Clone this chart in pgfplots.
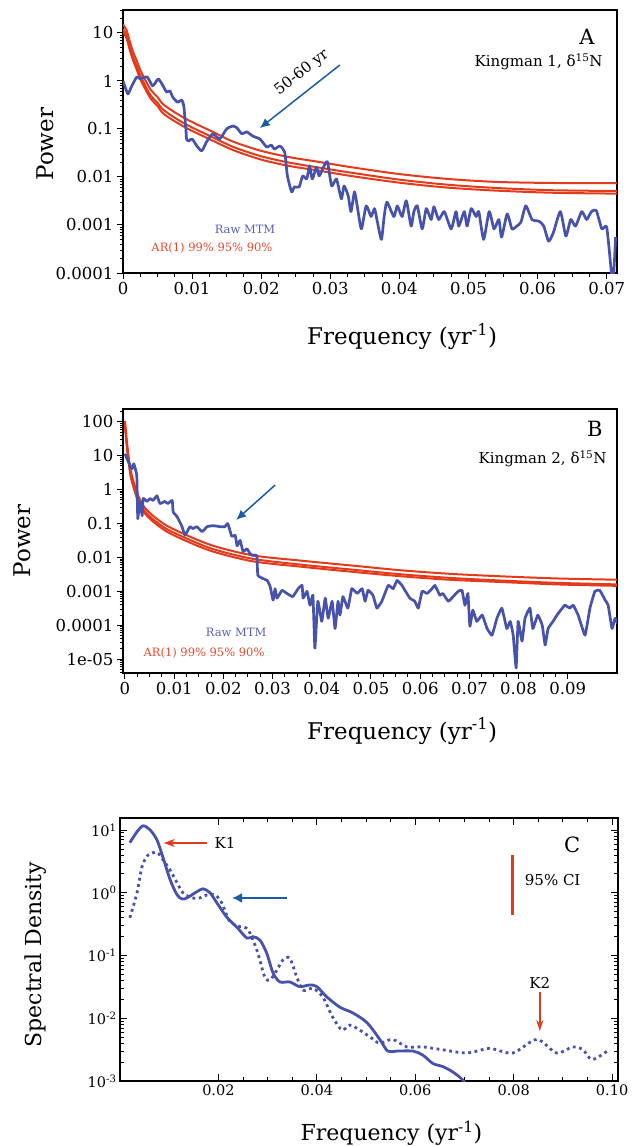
\documentclass[border=0pt]{standalone}
\usepackage{fontspec}
\setmainfont{DejaVu Serif}
\usepackage{pgfplots}
\usepackage{pgfplotstable}
\pgfplotsset{compat=1.18}
\usetikzlibrary{arrows.meta}
\definecolor{mtmblue}{HTML}{4752AC}
\definecolor{arrowblue}{HTML}{1B5CA6}
\definecolor{arred}{HTML}{E33A1C}
\definecolor{legblue}{HTML}{5560B5}
\definecolor{legred}{HTML}{E8492C}

% panel A: raw MTM spectrum, Kingman 1
\pgfplotstableread{
f P
0 1.0
0.0007 0.54
0.0012 0.75
0.002 1.21
0.0025 1.1
0.0035 1.21
0.0043 0.79
0.0051 1.1
0.0058 0.79
0.0063 0.59
0.0068 0.62
0.0072 0.46
0.0079 0.36
0.0085 0.40
0.0088 0.30
0.0091 0.10
0.0092 0.062
0.0095 0.056
0.0100 0.062
0.0107 0.044
0.0114 0.035
0.0121 0.054
0.0130 0.079
0.0140 0.062
0.0150 0.10
0.0159 0.115
0.0165 0.105
0.0172 0.079
0.0179 0.087
0.0188 0.071
0.0198 0.062
0.0203 0.051
0.0208 0.042
0.0215 0.046
0.0219 0.038
0.0227 0.044
0.0234 0.033
0.0238 0.0105
0.0244 0.0049
0.0248 0.0062
0.0255 0.0062
0.0260 0.0105
0.0266 0.0091
0.0270 0.017
0.0274 0.0091
0.0280 0.016
0.0284 0.0105
0.0291 0.017
0.0296 0.0205
0.0302 0.0065
0.0309 0.0091
0.0316 0.0035
0.0320 0.0065
0.0326 0.0040
0.0330 0.0019
0.0335 0.0049
0.0339 0.0025
0.0345 0.00083
0.0352 0.0025
0.0359 0.0015
0.0364 0.0022
0.0368 0.0012
0.0374 0.0005
0.0378 0.0015
0.0382 0.0030
0.0392 0.0015
0.0397 0.0025
0.0404 0.0015
0.0410 0.0032
0.0417 0.00095
0.0421 0.0019
0.0426 0.0025
0.0433 0.00083
0.0439 0.0022
0.0446 0.0013
0.0450 0.0024
0.0457 0.0013
0.0465 0.0019
0.0475 0.00083
0.0482 0.0019
0.0486 0.00095
0.0494 0.0019
0.0498 0.00095
0.0504 0.0022
0.0511 0.0015
0.0515 0.0019
0.0522 0.0005
0.0530 0.0019
0.0537 0.00083
0.0544 0.0013
0.0548 0.00056
0.0556 0.0017
0.0563 0.00083
0.0570 0.00095
0.0576 0.00115
0.0583 0.0025
0.0592 0.0013
0.0602 0.0012
0.0609 0.00095
0.0616 0.00046
0.0623 0.0007
0.0633 0.0019
0.0641 0.00059
0.0648 0.0013
0.0655 0.00095
0.0664 0.0019
0.0671 0.0013
0.0678 0.0019
0.0685 0.0020
0.0693 0.00083
0.0700 0.00091
0.0706 0.00014
0.0709 0.00005
0.0713 0.00056
}\mtmA

\pgfplotstableread{
f p99 p95 p90
0 15 12 10.5
0.0005 11.5 9.0 7.8
0.001 6.5 5.0 4.3
0.0015 3.9 3.0 2.6
0.002 2.6 2.0 1.7
0.0025 1.7 1.3 1.1
0.003 1.2 0.92 0.78
0.004 0.66 0.50 0.43
0.005 0.46 0.35 0.30
0.006 0.31 0.24 0.20
0.009 0.165 0.127 0.108
0.013 0.087 0.067 0.057
0.016 0.054 0.042 0.036
0.020 0.035 0.027 0.023
0.024 0.026 0.020 0.017
0.028 0.021 0.016 0.0138
0.033 0.016 0.0123 0.0105
0.040 0.0115 0.0088 0.0076
0.047 0.0091 0.0069 0.0060
0.054 0.0079 0.0059 0.0052
0.062 0.0075 0.0053 0.0047
0.0715 0.0074 0.0051 0.0045
}\arA

% panel B: raw MTM spectrum, Kingman 2
\pgfplotstableread{
f P
0 11.5
0.0006 7.1
0.0014 4.1
0.0018 5.8
0.0024 2.6
0.0026 0.14
0.0030 0.45
0.0035 0.17
0.0037 0.55
0.0045 0.45
0.0051 0.55
0.0057 0.48
0.0065 0.66
0.0071 0.39
0.0081 0.45
0.0087 0.39
0.0096 0.48
0.0098 0.22
0.0106 0.16
0.0116 0.081
0.0122 0.045
0.0132 0.081
0.0138 0.071
0.0146 0.081
0.0157 0.058
0.0167 0.081
0.0179 0.087
0.0193 0.081
0.0203 0.081
0.0209 0.10
0.0217 0.042
0.0224 0.045
0.0228 0.022
0.0234 0.032
0.0240 0.015
0.0248 0.018
0.0254 0.013
0.0260 0.0115
0.0268 0.0115
0.0270 0.0030
0.0280 0.0024
0.0289 0.0021
0.0295 0.0014
0.0301 0.00055
0.0305 0.0012
0.0309 0.00063
0.0319 0.00107
0.0329 0.00087
0.0341 0.0007
0.0352 0.0012
0.0360 0.0015
0.0362 0.00063
0.0370 0.0010
0.0376 0.00039
0.0382 0.00077
0.0386 0.000021
0.0392 0.00051
0.0400 0.00013
0.0407 0.00063
0.0413 0.00016
0.0421 0.00051
0.0427 0.00008
0.0433 0.00051
0.0437 0.0002
0.0443 0.0007
0.0453 0.00032
0.0461 0.0012
0.0472 0.00087
0.0482 0.0012
0.0488 0.00051
0.0494 0.00107
0.0504 0.00077
0.0512 0.00032
0.0522 0.00051
0.0535 0.0015
0.0545 0.0012
0.0553 0.0021
0.0563 0.0015
0.0569 0.00107
0.0579 0.00063
0.0589 0.00051
0.0596 0.00032
0.0604 0.0010
0.0614 0.00087
0.0624 0.0012
0.0630 0.0015
0.0640 0.00077
0.0646 0.00087
0.0657 0.00051
0.0667 0.0007
0.0677 0.0010
0.0685 0.00107
0.0691 0.00039
0.0697 0.00087
0.0701 0.000093
0.0707 0.00028
0.0715 0.00013
0.0726 0.0002
0.0736 0.00008
0.0746 0.000051
0.0756 0.00016
0.0766 0.00032
0.0776 0.00008
0.0783 0.00013
0.0789 0.000051
0.0795 0.0000055
0.0799 0.00013
0.0807 0.000034
0.0813 0.00016
0.0823 0.00032
0.0829 0.00008
0.0839 0.0002
0.0848 0.0001
0.0854 0.000026
0.0860 0.00008
0.0870 0.00013
0.0878 0.0002
0.0884 0.00026
0.0894 0.00039
0.0904 0.00032
0.0911 0.00039
0.0921 0.0002
0.0935 0.000051
0.0945 0.00032
0.0955 0.0010
0.0965 0.00107
0.0976 0.00055
0.0982 0.00039
0.0990 0.00008
0.0996 0.00016
0.1002 0.00011
}\mtmB

\pgfplotstableread{
f p99 p95 p90
0 107 85 72
0.0003 36 29 24
0.0006 14 11 9.5
0.001 5.0 4.0 3.4
0.0014 2.6 2.1 1.75
0.0024 0.87 0.69 0.58
0.0037 0.34 0.27 0.23
0.0057 0.17 0.135 0.115
0.0085 0.087 0.069 0.058
0.0126 0.045 0.036 0.030
0.018 0.022 0.0175 0.0148
0.026 0.0115 0.0091 0.0077
0.036 0.0080 0.0061 0.0053
0.046 0.0058 0.0044 0.0038
0.056 0.0042 0.0032 0.0028
0.066 0.0033 0.0025 0.0022
0.076 0.0028 0.0021 0.0019
0.088 0.0024 0.00178 0.00160
0.1005 0.0022 0.0016 0.00145
}\arB

% panel C: spectral density, K1 (solid) and K2 (dotted)
\pgfplotstableread{
f S
0.002 6.3
0.00345 9.4
0.0047 11.7
0.0061 10.1
0.0075 7.0
0.0087 3.75
0.0102 1.61
0.0116 0.93
0.0126 0.80
0.0136 0.83
0.0156 1.04
0.0169 1.16
0.0183 1.0
0.0197 0.69
0.0217 0.41
0.0238 0.28
0.0258 0.19
0.0270 0.20
0.0284 0.178
0.0298 0.11
0.0311 0.053
0.0325 0.038
0.0345 0.038
0.0365 0.032
0.0386 0.034
0.0400 0.032
0.0420 0.022
0.0447 0.015
0.0473 0.0122
0.0502 0.0085
0.0528 0.0046
0.0544 0.0030
0.0562 0.0030
0.0595 0.0030
0.0615 0.0026
0.0636 0.0019
0.0656 0.0017
0.0676 0.0014
0.0696 0.00105
0.0711 0.00072
}\specK

\pgfplotstableread{
f S
0.002 0.40
0.00345 1.0
0.00447 2.6
0.0057 4.0
0.0075 4.4
0.0087 3.4
0.0102 2.3
0.0116 1.44
0.0128 1.0
0.0146 0.83
0.0162 0.83
0.0177 0.93
0.0193 0.93
0.0207 0.69
0.0223 0.35
0.0244 0.29
0.0260 0.26
0.0278 0.123
0.0294 0.046
0.0305 0.041
0.0319 0.059
0.0331 0.085
0.0345 0.091
0.0359 0.046
0.0372 0.028
0.0392 0.030
0.0412 0.022
0.0432 0.0105
0.0451 0.0065
0.0467 0.0078
0.0487 0.0065
0.0512 0.0048
0.0528 0.0040
0.0554 0.0046
0.0583 0.0035
0.0615 0.0035
0.0650 0.0032
0.0705 0.0028
0.0751 0.0033
0.0798 0.0028
0.0847 0.0046
0.0887 0.0028
0.0920 0.0035
0.0940 0.0032
0.0960 0.0022
0.0995 0.0032
}\specKtwo

\pgfplotsset{
  kpanel/.style={
    scale only axis,
    scaled x ticks=false,
    axis line style={line width=2.8pt},
    tick style={black, line width=1pt},
    major tick length=6pt, minor tick length=3.5pt,
    tick align=outside, tick pos=left,
    ticklabel style={font=\fontsize{16.5}{16.5}\selectfont},
    label style={font=\fontsize{23}{23}\selectfont},
  },
}
\tikzset{
  mtm/.style={mtmblue, line width=2.7pt, smooth, tension=0.35, line join=round},
  arline/.style={arred, line width=2pt, smooth},
}

\begin{document}
\begin{tikzpicture}
\path[use as bounding box] (0pt,0pt) rectangle (634pt,-1146pt);

% ---------------- A ----------------
\begin{semilogyaxis}[kpanel,
  at={(123pt,-273pt)}, anchor=south west, width=494pt, height=263pt,
  xmin=0, xmax=0.0715, ymin=1e-4, ymax=30,
  xtick={0,0.01,0.02,0.03,0.04,0.05,0.06,0.07},
  xticklabels={0,0.01,0.02,0.03,0.04,0.05,0.06,0.07},
  minor x tick num=3,
  ytick={1e-4,1e-3,1e-2,1e-1,1,10},
  yticklabels={0.0001,0.001,0.01,0.1,1,10},
  minor ytick={2e-4,3e-4,4e-4,5e-4,6e-4,7e-4,8e-4,9e-4,
    2e-3,3e-3,4e-3,5e-3,6e-3,7e-3,8e-3,9e-3,
    0.02,0.03,0.04,0.05,0.06,0.07,0.08,0.09,
    0.2,0.3,0.4,0.5,0.6,0.7,0.8,0.9,
    2,3,4,5,6,7,8,9,20,30},
  xlabel={Frequency (yr\textsuperscript{-1})},
  ylabel={Power},
  xlabel style={at={(axis description cs:0.565,-0.243)}, anchor=center},
  ylabel style={at={(axis description cs:-0.158,0.49)}, anchor=center},
]
\addplot[arline] table[x=f, y=p99] {\arA};
\addplot[arline] table[x=f, y=p95] {\arA};
\addplot[arline] table[x=f, y=p90] {\arA};
\addplot[mtm] table[x=f, y=P] {\mtmA};
\node[font=\fontsize{21}{21}\selectfont] at (rel axis cs:0.939,0.897) {A};
\node[anchor=east, font=\fontsize{15}{15}\selectfont] at (rel axis cs:0.978,0.802) {Kingman 1, δ\textsuperscript{15}N};
\draw[arrowblue, line width=1.5pt, -{Latex[length=10pt,width=9pt]}]
  (rel axis cs:0.439,0.791) -- (rel axis cs:0.277,0.551);
\node[rotate=38, font=\fontsize{15}{15}\selectfont] at (rel axis cs:0.362,0.762) {50-60 yr};
\node[legblue, font=\fontsize{11.5}{11.5}\selectfont] at (rel axis cs:0.247,0.167) {Raw MTM};
\node[legred, font=\fontsize{11.5}{11.5}\selectfont] at (rel axis cs:0.180,0.095) {AR(1) 99\% 95\% 90\%};
\end{semilogyaxis}

% ---------------- B ----------------
\begin{semilogyaxis}[kpanel,
  at={(123pt,-673pt)}, anchor=south west, width=494pt, height=264pt,
  xmin=-0.0004, xmax=0.1, ymin=3.9e-6, ymax=240,
  xtick={0,0.01,0.02,0.03,0.04,0.05,0.06,0.07,0.08,0.09},
  xticklabels={0,0.01,0.02,0.03,0.04,0.05,0.06,0.07,0.08,0.09},
  minor x tick num=3,
  ytick={1e-5,1e-4,1e-3,1e-2,1e-1,1,10,100},
  yticklabels={1e-05,0.0001,0.001,0.01,0.1,1,10,100},
  minor ytick={4e-6,5e-6,6e-6,7e-6,8e-6,9e-6,
    2e-5,3e-5,4e-5,5e-5,6e-5,7e-5,8e-5,9e-5,
    2e-4,3e-4,4e-4,5e-4,6e-4,7e-4,8e-4,9e-4,
    2e-3,3e-3,4e-3,5e-3,6e-3,7e-3,8e-3,9e-3,
    0.02,0.03,0.04,0.05,0.06,0.07,0.08,0.09,
    0.2,0.3,0.4,0.5,0.6,0.7,0.8,0.9,
    2,3,4,5,6,7,8,9,20,30,40,50,60,70,80,90,200},
  xlabel={Frequency (yr\textsuperscript{-1})},
  ylabel={Power},
  xlabel style={at={(axis description cs:0.565,-0.220)}, anchor=center},
  ylabel style={at={(axis description cs:-0.204,0.50)}, anchor=center},
]
\addplot[arline] table[x=f, y=p99] {\arB};
\addplot[arline] table[x=f, y=p95] {\arB};
\addplot[arline] table[x=f, y=p90] {\arB};
\addplot[mtm, tension=0.2] table[x=f, y=P] {\mtmB};
\node[font=\fontsize{21}{21}\selectfont] at (rel axis cs:0.955,0.924) {B};
\node[anchor=east, font=\fontsize{15}{15}\selectfont] at (rel axis cs:0.986,0.811) {Kingman 2, δ\textsuperscript{15}N};
\draw[arrowblue, line width=1.5pt, -{Latex[length=10pt,width=9pt]}]
  (rel axis cs:0.308,0.712) -- (rel axis cs:0.229,0.580);
\node[legblue, font=\fontsize{11.5}{11.5}\selectfont] at (rel axis cs:0.229,0.152) {Raw MTM};
\node[legred, font=\fontsize{11.5}{11.5}\selectfont] at (rel axis cs:0.164,0.076) {AR(1) 99\% 95\% 90\%};
\end{semilogyaxis}

% ---------------- C ----------------
\begin{semilogyaxis}[kpanel,
  at={(120pt,-1081pt)}, anchor=south west, width=498pt, height=263pt,
  xmin=0, xmax=0.1012, ymin=1e-3, ymax=15.6,
  tick align=inside, tick pos=both,
  major tick length=7pt, minor tick length=4pt,
  ticklabel style={font=\fontsize{14.5}{14.5}\selectfont},
  label style={font=\fontsize{22}{22}\selectfont},
  xtick={0.02,0.04,0.06,0.08,0.1},
  xticklabels={0.02,0.04,0.06,0.08,0.10},
  minor x tick num=3,
  ytick={1e-3,1e-2,1e-1,1,10},
  yticklabels={10\textsuperscript{-3},10\textsuperscript{-2},10\textsuperscript{-1},10\textsuperscript{0},10\textsuperscript{1}},
  minor ytick={2e-3,3e-3,4e-3,5e-3,6e-3,7e-3,8e-3,9e-3,
    0.02,0.03,0.04,0.05,0.06,0.07,0.08,0.09,
    0.2,0.3,0.4,0.5,0.6,0.7,0.8,0.9,
    2,3,4,5,6,7,8,9},
  xlabel={Frequency (yr\textsuperscript{-1})},
  ylabel={Spectral Density},
  xlabel style={at={(axis description cs:0.545,-0.198)}, anchor=center},
  ylabel style={at={(axis description cs:-0.17,0.48)}, anchor=center},
]
\addplot[mtmblue, line width=2.8pt, smooth] table[x=f, y=S] {\specK};
\addplot[mtmblue, line width=2.8pt, smooth, dash pattern=on 2.8pt off 3.6pt] table[x=f, y=S] {\specKtwo};
\node[font=\fontsize{21}{21}\selectfont] at (rel axis cs:0.908,0.897) {C};
\draw[arred, line width=1.6pt, -{Stealth[open, fill=white, length=11pt, width=8pt]}]
  (rel axis cs:0.175,0.905) -- (rel axis cs:0.088,0.905);
\node[anchor=west, font=\fontsize{15}{15}\selectfont] at (rel axis cs:0.183,0.905) {K1};
\draw[arrowblue, line width=1.6pt, -{Latex[length=10pt,width=10pt]}]
  (rel axis cs:0.335,0.696) -- (rel axis cs:0.225,0.696);
\draw[arred, line width=3pt] (rel axis cs:0.789,0.859) -- (rel axis cs:0.789,0.631);
\node[anchor=west, font=\fontsize{15}{15}\selectfont] at (rel axis cs:0.806,0.764) {95\% CI};
\node[font=\fontsize{15}{15}\selectfont] at (rel axis cs:0.843,0.373) {K2};
\draw[arred, line width=1.6pt, -{Stealth[open, fill=white, length=11pt, width=7pt]}]
  (rel axis cs:0.843,0.338) -- (rel axis cs:0.843,0.190);
\end{semilogyaxis}
\end{tikzpicture}
\end{document}
